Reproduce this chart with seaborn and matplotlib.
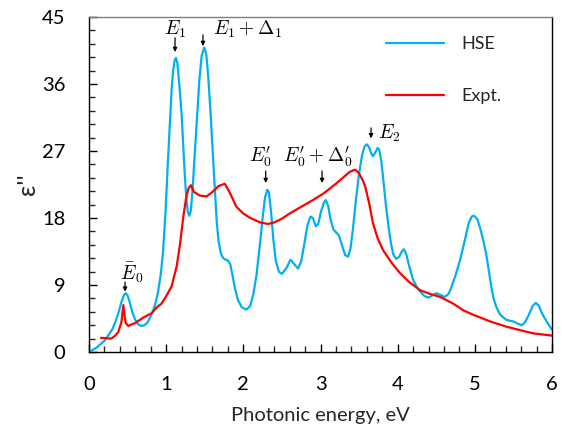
import numpy as np
import pandas as pd
import seaborn as sns
import matplotlib.pyplot as plt
from matplotlib.ticker import MultipleLocator

# HSE calculation
hse_energy = [0.0, 0.1, 0.2, 0.3, 0.34, 0.38, 0.42, 0.45, 0.475, 0.5, 0.53, 0.56, 0.6, 0.64,
              0.68, 0.72, 0.76, 0.8, 0.85, 0.89, 0.93, 0.96, 0.99, 1.02, 1.05, 1.07, 1.09,
              1.11, 1.127, 1.145, 1.17, 1.2, 1.22, 1.24, 1.26, 1.28, 1.3, 1.32, 1.34, 1.37,
              1.4, 1.43, 1.46, 1.494, 1.52, 1.545, 1.57, 1.6, 1.63, 1.655, 1.68, 1.71, 1.74,
              1.77, 1.8, 1.83, 1.86, 1.89, 1.93, 1.98, 2.04, 2.09, 2.13, 2.17, 2.21, 2.25,
              2.28, 2.31, 2.33, 2.36, 2.39, 2.42, 2.46, 2.5, 2.56, 2.61, 2.66, 2.71, 2.75,
              2.79, 2.83, 2.87, 2.9, 2.94, 2.97, 3.01, 3.05, 3.07, 3.1, 3.13, 3.17, 3.21,
              3.24, 3.28, 3.32, 3.36, 3.39, 3.42, 3.46, 3.5, 3.54, 3.57, 3.6, 3.63, 3.66,
              3.68, 3.71, 3.74, 3.76, 3.79, 3.82, 3.85, 3.88, 3.91, 3.94, 3.98, 4.02, 4.06,
              4.08, 4.11, 4.15, 4.2, 4.25, 4.3, 4.35, 4.4, 4.45, 4.5, 4.55, 4.61, 4.66, 4.7,
              4.75, 4.81, 4.87, 4.92, 4.96, 4.99, 5.03, 5.07, 5.11, 5.15, 5.18, 5.21, 5.24,
              5.28, 5.33, 5.41, 5.5, 5.56, 5.61, 5.65, 5.7, 5.75, 5.79, 5.83, 5.87, 5.93, 6.0]
hse_eps2 = [0.0, 0.6, 1.5, 3.0, 4.0, 5.2, 6.7, 7.6, 7.9, 7.6, 6.6, 5.4, 4.3, 3.7,
            3.5, 3.6, 4.0, 4.8, 6.1, 7.8, 10.4, 13.5, 18.5, 25.0, 31.0, 35.2, 37.8,
            39.2, 39.5, 38.8, 36.0, 32.0, 28.0, 24.0, 20.8, 18.8, 18.3, 19.0, 21.5, 26.5,
            31.5, 36.5, 39.8, 40.9, 40.0, 37.0, 33.0, 27.5, 21.8, 17.5, 14.8, 13.2, 12.6,
            12.4, 12.3, 11.8, 10.3, 8.6, 7.0, 6.0, 5.7, 6.2, 7.8, 10.3, 14.0, 18.0,
            20.7, 21.8, 21.5, 18.8, 15.0, 12.3, 10.8, 10.5, 11.3, 12.4, 11.8, 11.2, 12.2,
            14.5, 17.0, 18.2, 18.0, 16.9, 17.2, 19.0, 20.2, 20.4, 19.6, 17.8, 16.4, 16.0,
            15.6, 14.3, 13.0, 12.8, 14.0, 16.5, 20.5, 24.0, 26.5, 27.6, 27.9, 27.5, 26.6,
            26.3, 26.8, 27.4, 27.2, 25.5, 22.5, 19.5, 17.0, 14.8, 13.2, 12.5, 12.8, 13.6,
            13.8, 13.2, 11.5, 9.7, 8.7, 8.0, 7.5, 7.3, 7.6, 7.9, 7.7, 7.4, 7.8, 8.8,
            10.3, 12.4, 15.0, 17.3, 18.2, 18.3, 17.9, 16.6, 15.0, 13.0, 11.0, 9.0, 7.3,
            6.0, 5.0, 4.3, 4.1, 3.8, 3.6, 4.0, 5.0, 6.2, 6.6, 6.2, 5.2, 4.1, 3.0]

# experiment
expt_energy = [0.155, 0.22, 0.29, 0.34, 0.38, 0.42, 0.445, 0.46, 0.475, 0.51, 0.55, 0.6, 0.7,
               0.81, 0.88, 0.94, 1.0, 1.07, 1.136, 1.18, 1.22, 1.26, 1.29, 1.32, 1.36, 1.44,
               1.525, 1.6, 1.68, 1.76, 1.82, 1.91, 2.0, 2.09, 2.22, 2.32, 2.4, 2.5, 2.6, 2.75,
               2.9, 3.04, 3.2, 3.3, 3.38, 3.45, 3.5, 3.55, 3.58, 3.63, 3.68, 3.74, 3.81, 3.92,
               4.03, 4.15, 4.29, 4.42, 4.55, 4.72, 4.85, 4.98, 5.2, 5.41, 5.6, 5.76, 6.0]
expt_eps2 = [1.9, 1.85, 1.8, 2.2, 2.7, 4.0, 6.3, 5.0, 3.9, 3.5, 3.7, 3.9, 4.6,
             5.2, 6.0, 6.5, 7.5, 8.8, 11.5, 14.5, 18.0, 20.8, 22.0, 22.4, 21.5, 21.0,
             20.9, 21.5, 22.3, 22.6, 21.5, 19.5, 18.6, 18.0, 17.4, 17.2, 17.4, 17.9, 18.6, 19.5,
             20.4, 21.3, 22.6, 23.5, 24.2, 24.5, 24.0, 23.0, 22.2, 20.0, 17.3, 15.3, 13.7, 12.0,
             10.6, 9.4, 8.3, 7.8, 7.4, 6.5, 5.6, 5.0, 4.1, 3.4, 2.9, 2.5, 2.2]

# transition labels
labels = [r"$\bar{E}_0$", r"$E_1$", r"$E_1+\Delta_1$", r"$E_0^{\prime}$",
          r"$E_0^{\prime}+\Delta_0^{\prime}$", r"$E_2$"]
arrow_x = [0.467, 1.115, 1.477, 2.29, 3.02, 3.655]
arrow_tail = [9.4, 42.2, 42.6, 24.3, 24.3, 30.1]
arrow_tip = [8.1, 40.3, 41.1, 22.7, 22.7, 28.7]
text_x = [0.557, 1.115, 1.61, 2.216, 2.96, 3.745]
text_y = [10.7, 43.4, 43.4, 26.2, 26.2, 29.4]
text_ha = ["center", "center", "left", "center", "center", "left"]

hse = pd.DataFrame({"energy": hse_energy, "eps2": hse_eps2})
expt = pd.DataFrame({"energy": expt_energy, "eps2": expt_eps2})

sns.set_style("ticks")
plt.rcParams["font.family"] = ["Lato", "DejaVu Sans"]
plt.rcParams["mathtext.fontset"] = "cm"

fig = plt.figure(figsize=(5.63, 4.28), dpi=100)
ax = fig.add_axes([89 / 563, 76 / 428, 463 / 563, 335 / 428])

sns.lineplot(data=hse, x="energy", y="eps2", ax=ax, color="#00B0F0", lw=1.6,
             label="HSE", sort=False, solid_joinstyle="round")
sns.lineplot(data=expt, x="energy", y="eps2", ax=ax, color="#FF0000", lw=1.6,
             label="Expt.", sort=False, solid_joinstyle="round")

for lab, ax_x, yt, yp, tx, ty, ha in zip(labels, arrow_x, arrow_tail, arrow_tip,
                                         text_x, text_y, text_ha):
    ax.annotate("", xy=(ax_x, yp), xytext=(ax_x, yt),
                arrowprops=dict(arrowstyle="-|>", color="black", lw=0.9,
                                mutation_scale=6, shrinkA=0, shrinkB=0))
    ax.text(tx, ty, lab, ha=ha, va="center", fontsize=14, color="black")

ax.set_xlim(0, 6)
ax.set_ylim(0, 45)
ax.xaxis.set_major_locator(MultipleLocator(1))
ax.xaxis.set_minor_locator(MultipleLocator(0.2))
ax.yaxis.set_major_locator(MultipleLocator(9))
ax.yaxis.set_minor_locator(MultipleLocator(1.8))
ax.tick_params(which="major", direction="in", length=6, width=1, labelsize=14.5,
               colors="black")
ax.tick_params(which="minor", direction="in", length=4, width=1)
ax.tick_params(axis="x", pad=17)
ax.tick_params(axis="y", pad=17)

for side in ["left", "bottom", "right"]:
    ax.spines[side].set_color("black")
    ax.spines[side].set_linewidth(1)
ax.spines["top"].set_color("#7f7f7f")
ax.spines["top"].set_linewidth(1)

ax.set_xlabel("Photonic energy, eV", fontsize=14.5, labelpad=10)
ax.set_ylabel("ε''", fontsize=18, labelpad=2)

ax.legend(loc="upper left", bbox_to_anchor=(386 / 563, 1 - 36 / 428),
          bbox_transform=fig.transFigure, frameon=False, fontsize=13,
          handlelength=3.2, handletextpad=1.0, labelspacing=2.0,
          borderpad=0, borderaxespad=0)

fig.savefig("out.png", dpi=100)
